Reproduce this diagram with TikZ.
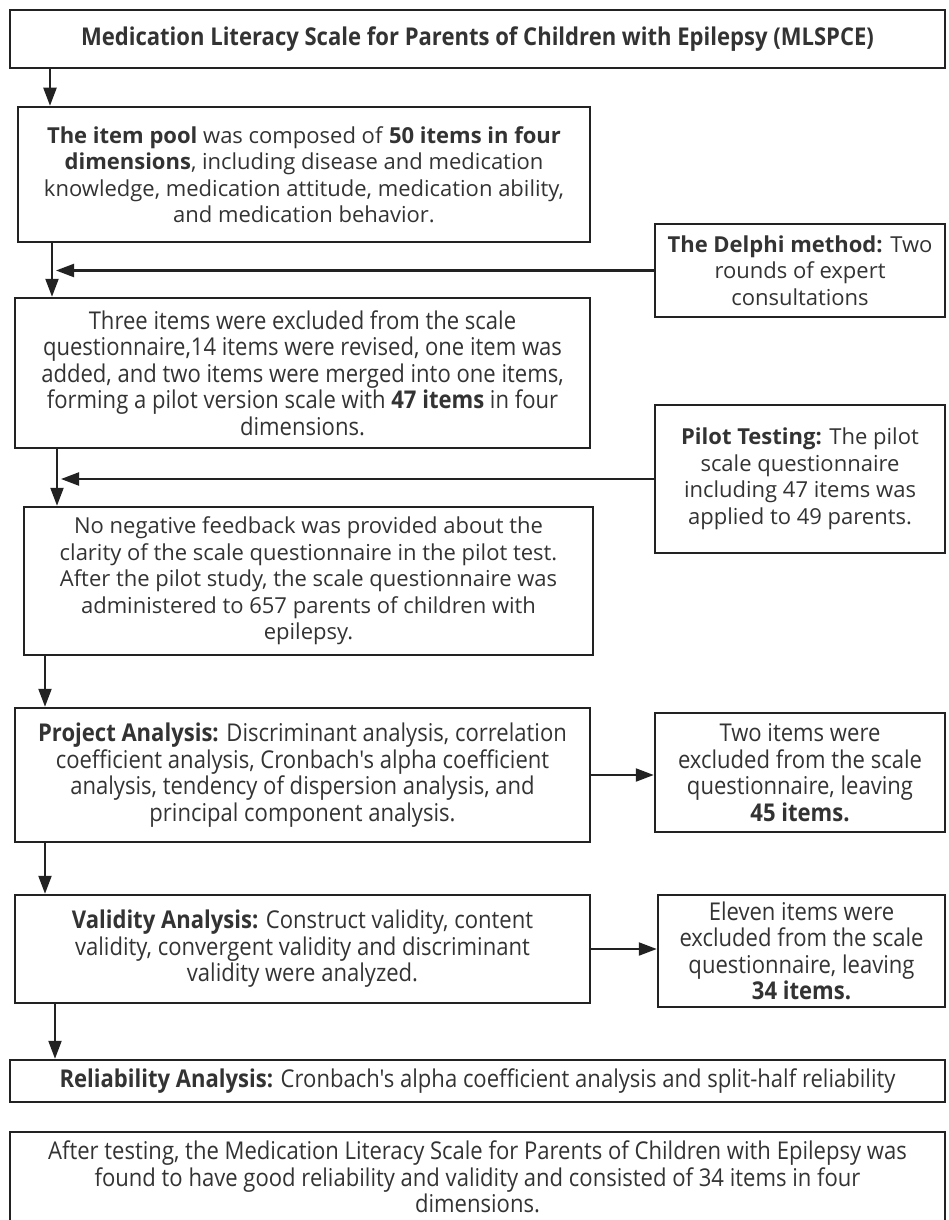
\documentclass[tikz,border=0pt]{standalone}
\usepackage{fontspec}
\setmainfont{Open Sans}
\newfontfamily\condfont[FakeStretch=0.9]{Open Sans}
\usetikzlibrary{arrows.meta,calc}
\definecolor{ink}{HTML}{333333}
\definecolor{edge}{HTML}{222222}
\tikzset{
  box/.style={draw=edge, line width=2.5pt, fill=white, align=center, inner sep=2pt, text=ink},
  normaltext/.style={font=\fontsize{22}{26.5}\selectfont},
  condtext/.style={font=\condfont\fontsize{24.5}{26.5}\selectfont},
  arr/.style={draw=edge, line width=2.2pt, -{Triangle[length=18pt,width=13pt]}},
}
\begin{document}
\begin{tikzpicture}[x=1pt,y=-1pt]
\useasboundingbox (0,0) rectangle (948,1220);
\fill[white] (0,0) rectangle (948,1220);

\node[box, condtext, minimum width=935pt, minimum height=58pt] (title) at (477.5,39)
  {\textbf{Medication Literacy Scale for Parents of Children with Epilepsy (MLSPCE)}};

\node[box, normaltext, minimum width=572pt, minimum height=135pt] (pool) at (304,174.5)
  {\textbf{The item pool} was composed of \textbf{50 items in four}\\
   \textbf{dimensions}, including disease and medication\\
   knowledge, medication attitude, medication ability,\\
   and medication behavior.};

\node[box, normaltext, minimum width=290pt, minimum height=93pt] (delphi) at (800,270.5)
  {\textbf{The Delphi method:} Two\\ rounds of expert\\ consultations};

\node[box, condtext, minimum width=575pt, minimum height=150pt] (three) at (302.5,373)
  {Three items were excluded from the scale\\
   questionnaire,14 items were revised, one item was\\
   added, and two items were merged into one items,\\
   forming a pilot version scale with \textbf{47 items} in four\\
   dimensions.};

\node[box, normaltext, minimum width=290pt, minimum height=148pt] (pilot) at (800,479)
  {\textbf{Pilot Testing:} The pilot\\ scale questionnaire\\ including 47 items was\\ applied to 49 parents.};

\node[box, normaltext, minimum width=569pt, minimum height=148pt] (noneg) at (308.5,581)
  {No negative feedback was provided about the\\
   clarity of the scale questionnaire in the pilot test.\\
   After the pilot study, the scale questionnaire was\\
   administered to 657 parents of children with\\
   epilepsy.};

\node[box, condtext, minimum width=575pt, minimum height=134pt] (proj) at (302.5,775)
  {\textbf{Project Analysis:} Discriminant analysis, correlation\\
   coefficient analysis, Cronbach's alpha coefficient\\
   analysis, tendency of dispersion analysis, and\\
   principal component analysis.};

\node[box, condtext, minimum width=290pt, minimum height=119pt] (two) at (800,772.5)
  {Two items were\\ excluded from the scale\\ questionnaire, leaving\\ \textbf{45 items.}};

\node[box, condtext, minimum width=575pt, minimum height=108pt] (valid) at (302.5,949)
  {\textbf{Validity Analysis:} Construct validity, content\\
   validity, convergent validity and discriminant\\
   validity were analyzed.};

\node[box, condtext, minimum width=287pt, minimum height=112pt] (eleven) at (801.5,951)
  {Eleven items were\\ excluded from the scale\\ questionnaire, leaving\\ \textbf{34 items.}};

\node[box, condtext, minimum width=935pt, minimum height=42pt] (rel) at (477.5,1081)
  {\textbf{Reliability Analysis:} Cronbach's alpha coefficient analysis and split-half reliability};

\node[box, condtext, minimum width=935pt, minimum height=90pt] (after) at (477.5,1177)
  {After testing, the Medication Literacy Scale for Parents of Children with Epilepsy was\\
   found to have good reliability and validity and consisted of 34 items in four\\
   dimensions.};

% connector x-positions
\coordinate (x1) at (50,0);
\coordinate (x2) at (52,0);
\coordinate (x3) at (57,0);
\coordinate (x4) at (45,0);
\coordinate (x5) at (55,0);
\coordinate (t1) at (56,0);
\coordinate (t2) at (61,0);

\draw[arr] (title.south -| x1) -- (pool.north -| x1);
\draw[arr] (pool.south -| x2) -- (three.north -| x2);
\draw[arr] (delphi.west) -- (delphi.west -| t1);
\draw[arr] (three.south -| x3) -- (noneg.north -| x3);
\draw[arr] (pilot.west) -- (pilot.west -| t2);
\draw[arr] (noneg.south -| x4) -- (proj.north -| x4);
\draw[arr] (proj.east) -- (proj.east -| two.west);
\draw[arr] (proj.south -| x4) -- (valid.north -| x4);
\draw[arr] (valid.east) -- (valid.east -| eleven.west);
\draw[arr] (valid.south -| x5) -- (rel.north -| x5);
\end{tikzpicture}
\end{document}
